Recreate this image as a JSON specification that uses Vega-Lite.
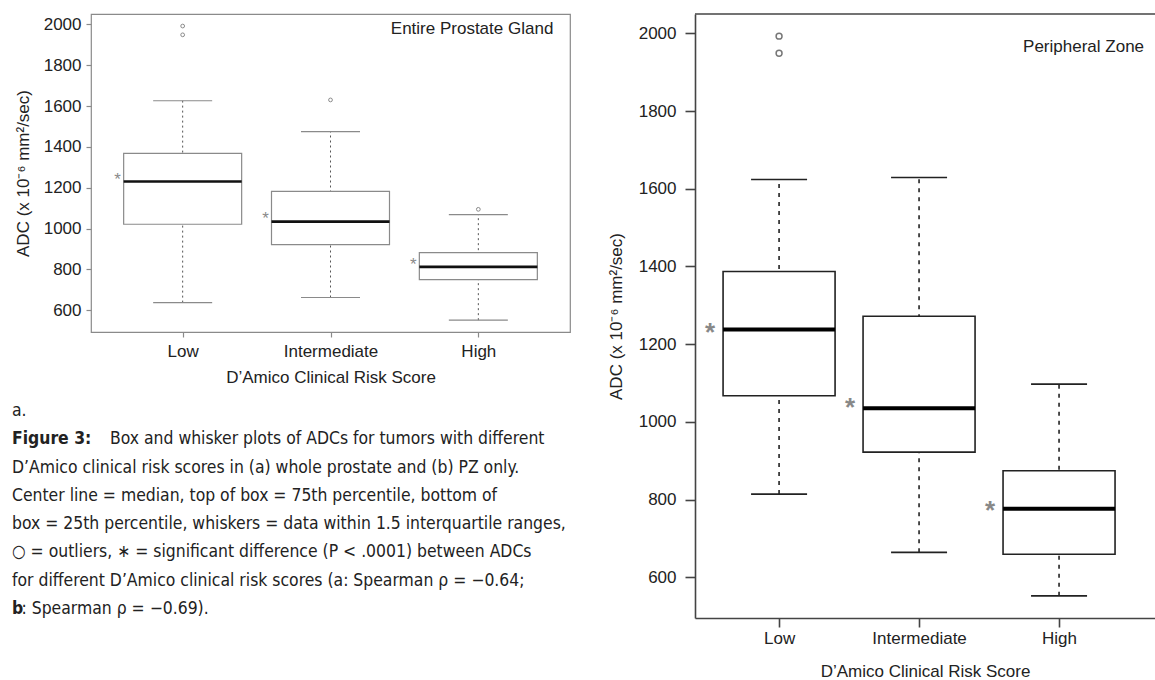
{
  "$schema": "https://vega.github.io/schema/vega-lite/v6.json",
  "padding": {"left": 12, "top": 13, "right": 0, "bottom": 0},
  "background": "white",
  "config": {"font": "Liberation Sans", "view": {"stroke": null}},
  "datasets": {
    "boxA": [
      {"risk": "Low", "lower": 637, "q1": 1021, "median": 1230, "q3": 1368, "upper": 1626},
      {"risk": "Intermediate", "lower": 662, "q1": 921, "median": 1034, "q3": 1182, "upper": 1475},
      {"risk": "High", "lower": 551, "q1": 750, "median": 812, "q3": 882, "upper": 1068}
    ],
    "outA": [
      {"risk": "Low", "value": 1992},
      {"risk": "Low", "value": 1949},
      {"risk": "Intermediate", "value": 1630},
      {"risk": "High", "value": 1094}
    ],
    "starA": [
      {"risk": "Low", "value": 1256},
      {"risk": "Intermediate", "value": 1065},
      {"risk": "High", "value": 840}
    ],
    "boxB": [
      {"risk": "Low", "lower": 814, "q1": 1067, "median": 1238, "q3": 1387, "upper": 1624},
      {"risk": "Intermediate", "lower": 664, "q1": 922, "median": 1035, "q3": 1272, "upper": 1629},
      {"risk": "High", "lower": 552, "q1": 659, "median": 776, "q3": 874, "upper": 1097}
    ],
    "outB": [
      {"risk": "Low", "value": 1993},
      {"risk": "Low", "value": 1949}
    ],
    "starB": [
      {"risk": "Low", "value": 1245},
      {"risk": "Intermediate", "value": 1050},
      {"risk": "High", "value": 786}
    ],
    "captionLines": [
      {"line": 0, "text": "a."},
      {"line": 1, "text": "Box and whisker plots of ADCs for tumors with different"},
      {"line": 2, "text": "D’Amico clinical risk scores in (a) whole prostate and (b) PZ only."},
      {"line": 3, "text": "Center line = median, top of box = 75th percentile, bottom of"},
      {"line": 4, "text": "box = 25th percentile, whiskers = data within 1.5 interquartile ranges,"},
      {"line": 5, "text": "○ = outliers, ∗ = significant difference (P < .0001) between ADCs"},
      {"line": 6, "text": "for different D’Amico clinical risk scores (a: Spearman ρ = −0.64;"},
      {"line": 7, "text": ": Spearman ρ = −0.69)."}
    ],
    "captionBold": [
      {"line": 1, "text": "Figure 3:"},
      {"line": 7, "text": "b"}
    ]
  },
  "spacing": 36,
  "hconcat": [
    {
      "spacing": 14,
      "vconcat": [
        {
          "width": 479,
          "height": 318,
          "view": {"stroke": "#8a8a8a", "strokeWidth": 1.2},
          "layer": [
            {
              "data": {"name": "boxA"},
              "encoding": {
                "x": {
                  "field": "risk", "type": "nominal", "title": "D’Amico Clinical Risk Score",
                  "scale": {"type": "point", "domain": ["Low", "Intermediate", "High"], "padding": 0.62},
                  "axis": {"labelAngle": 0, "domain": false, "grid": false,
                           "tickColor": "#8a8a8a", "tickSize": 5, "tickWidth": 1.2, "labelFontSize": 17, "labelPadding": 6,
                           "labelColor": "#222", "titleFontSize": 17, "titleFontWeight": "normal", "titleColor": "#222", "titlePadding": 10}
                }
              },
              "layer": [
                {
                  "mark": {"type": "rule", "strokeDash": [2, 3], "color": "#555", "strokeWidth": 1},
                  "encoding": {
                    "y": {
                      "field": "lower", "type": "quantitative", "title": "ADC (x 10⁻⁶ mm²/sec)",
                      "scale": {"domain": [493, 2051], "zero": false, "nice": false},
                      "axis": {"values": [600, 800, 1000, 1200, 1400, 1600, 1800, 2000], "format": "d",
                               "domain": false, "grid": false, "tickColor": "#8a8a8a", "tickSize": 5, "tickWidth": 1.2,
                               "labelFontSize": 17, "labelPadding": 5, "labelColor": "#222",
                               "titleFontSize": 17, "titleFontWeight": "normal", "titleColor": "#222", "titlePadding": 11}
                    },
                    "y2": {"field": "upper"}
                  }
                },
                {
                  "mark": {"type": "tick", "size": 59, "thickness": 1.2, "color": "#8a8a8a", "opacity": 1},
                  "encoding": {"y": {"field": "upper", "type": "quantitative", "title": "ADC (x 10⁻⁶ mm²/sec)"}}
                },
                {
                  "mark": {"type": "tick", "size": 59, "thickness": 1.2, "color": "#8a8a8a", "opacity": 1},
                  "encoding": {"y": {"field": "lower", "type": "quantitative", "title": "ADC (x 10⁻⁶ mm²/sec)"}}
                },
                {
                  "mark": {"type": "bar", "size": 118, "fill": "white", "stroke": "#8a8a8a", "strokeWidth": 1.2},
                  "encoding": {"y": {"field": "q1", "type": "quantitative", "title": "ADC (x 10⁻⁶ mm²/sec)"}, "y2": {"field": "q3"}}
                },
                {
                  "mark": {"type": "tick", "size": 118, "thickness": 2.6, "color": "#111", "opacity": 1},
                  "encoding": {"y": {"field": "median", "type": "quantitative", "title": "ADC (x 10⁻⁶ mm²/sec)"}}
                },
                {
                  "data": {"name": "outA"},
                  "mark": {"type": "point", "shape": "circle", "filled": false, "size": 14, "color": "#8a8a8a", "strokeWidth": 1, "opacity": 1},
                  "encoding": {"y": {"field": "value", "type": "quantitative", "title": "ADC (x 10⁻⁶ mm²/sec)"}}
                },
                {
                  "data": {"name": "starA"},
                  "mark": {"type": "text", "text": "*", "fontSize": 17, "color": "#8a8a8a", "dx": -65, "dy": 4, "baseline": "middle", "align": "center"},
                  "encoding": {"y": {"field": "value", "type": "quantitative", "title": "ADC (x 10⁻⁶ mm²/sec)"}}
                }
              ]
            },
            {
              "data": {"values": [{"label": "Entire Prostate Gland"}]},
              "mark": {"type": "text", "fontSize": 17, "color": "#222", "align": "right", "baseline": "middle", "dx": 75},
              "encoding": {
                "x": {"datum": "High", "type": "nominal", "title": "D’Amico Clinical Risk Score"},
                "y": {"datum": 1977, "type": "quantitative", "title": "ADC (x 10⁻⁶ mm²/sec)"},
                "text": {"field": "label"}
              }
            }
          ]
        },
        {
          "width": 400,
          "height": 220,
          "encoding": {
            "y": {"field": "line", "type": "ordinal", "scale": {"type": "point", "domain": [0, 1, 2, 3, 4, 5, 6, 7], "padding": 0.4}, "axis": null},
            "x": {"datum": 0, "type": "quantitative", "scale": {"domain": [0, 1]}, "axis": null},
            "text": {"field": "text"}
          },
          "layer": [
            {
              "data": {"name": "captionLines"},
              "transform": [{"filter": "datum.line != 1 && datum.line != 7"}],
              "mark": {"type": "text", "align": "left", "baseline": "middle", "dx": -79, "font": "Liberation Sans Narrow, DejaVu Sans Condensed, sans-serif", "fontSize": 17.4, "color": "#222"}
            },
            {
              "data": {"name": "captionLines"},
              "transform": [{"filter": "datum.line == 1"}],
              "mark": {"type": "text", "align": "left", "baseline": "middle", "dx": 19, "font": "Liberation Sans Narrow, DejaVu Sans Condensed, sans-serif", "fontSize": 17.4, "color": "#222"}
            },
            {
              "data": {"name": "captionLines"},
              "transform": [{"filter": "datum.line == 7"}],
              "mark": {"type": "text", "align": "left", "baseline": "middle", "dx": -69.5, "font": "Liberation Sans Narrow, DejaVu Sans Condensed, sans-serif", "fontSize": 17.4, "color": "#222"}
            },
            {
              "data": {"name": "captionBold"},
              "mark": {"type": "text", "align": "left", "baseline": "middle", "dx": -79, "fontWeight": "bold", "font": "Liberation Sans Narrow, DejaVu Sans Condensed, sans-serif", "fontSize": 17.4, "color": "#222"}
            }
          ]
        }
      ]
    },
    {
      "width": 460,
      "height": 604,
      "layer": [
        {
          "data": {"name": "boxB"},
          "encoding": {
            "x": {
              "field": "risk", "type": "nominal", "title": "D’Amico Clinical Risk Score",
              "scale": {"type": "point", "domain": ["Low", "Intermediate", "High"], "padding": 0.643, "align": 0.467},
              "axis": {"labelAngle": 0, "domain": true, "domainColor": "#444", "domainWidth": 1.6, "grid": false,
                       "tickColor": "#444", "tickSize": 9, "tickWidth": 1.6, "labelFontSize": 17, "labelPadding": 3,
                       "labelColor": "#222", "titleFontSize": 17, "titleFontWeight": "normal", "titleColor": "#222", "titlePadding": 17}
            }
          },
          "layer": [
            {
              "mark": {"type": "rule", "strokeDash": [4, 5], "color": "#222", "strokeWidth": 1.6},
              "encoding": {
                "y": {
                  "field": "lower", "type": "quantitative", "title": "ADC (x 10⁻⁶ mm²/sec)",
                  "scale": {"domain": [495, 2050], "zero": false, "nice": false},
                  "axis": {"values": [600, 800, 1000, 1200, 1400, 1600, 1800, 2000], "format": "d",
                           "domain": true, "domainColor": "#444", "domainWidth": 1.6, "grid": false, "tickColor": "#444", "tickSize": 10, "tickWidth": 1.6,
                           "labelFontSize": 17, "labelPadding": 9, "labelColor": "#222",
                           "titleFontSize": 17, "titleFontWeight": "normal", "titleColor": "#222", "titlePadding": 13}
                },
                "y2": {"field": "upper"}
              }
            },
            {
              "mark": {"type": "tick", "size": 56, "thickness": 1.6, "color": "#222", "opacity": 1},
              "encoding": {"y": {"field": "upper", "type": "quantitative", "title": "ADC (x 10⁻⁶ mm²/sec)"}}
            },
            {
              "mark": {"type": "tick", "size": 56, "thickness": 1.6, "color": "#222", "opacity": 1},
              "encoding": {"y": {"field": "lower", "type": "quantitative", "title": "ADC (x 10⁻⁶ mm²/sec)"}}
            },
            {
              "mark": {"type": "bar", "size": 112, "fill": "white", "stroke": "#222", "strokeWidth": 1.6},
              "encoding": {"y": {"field": "q1", "type": "quantitative", "title": "ADC (x 10⁻⁶ mm²/sec)"}, "y2": {"field": "q3"}}
            },
            {
              "mark": {"type": "tick", "size": 112, "thickness": 4, "color": "#000", "opacity": 1},
              "encoding": {"y": {"field": "median", "type": "quantitative", "title": "ADC (x 10⁻⁶ mm²/sec)"}}
            },
            {
              "data": {"name": "outB"},
              "mark": {"type": "point", "shape": "circle", "filled": false, "size": 35, "color": "#777", "strokeWidth": 1.5, "opacity": 1},
              "encoding": {"y": {"field": "value", "type": "quantitative", "title": "ADC (x 10⁻⁶ mm²/sec)"}}
            },
            {
              "data": {"name": "starB"},
              "mark": {"type": "text", "text": "*", "fontSize": 26, "fontWeight": "bold", "color": "#888", "dx": -69, "dy": 6, "baseline": "middle", "align": "center"},
              "encoding": {"y": {"field": "value", "type": "quantitative", "title": "ADC (x 10⁻⁶ mm²/sec)"}}
            }
          ]
        },
        {
          "data": {"values": [{"label": "Peripheral Zone"}]},
          "mark": {"type": "text", "fontSize": 17, "color": "#222", "align": "right", "baseline": "middle", "dx": 85},
          "encoding": {
            "x": {"datum": "High", "type": "nominal", "title": "D’Amico Clinical Risk Score"},
            "y": {"datum": 1966, "type": "quantitative", "title": "ADC (x 10⁻⁶ mm²/sec)"},
            "text": {"field": "label"}
          }
        },
        {
          "data": {"values": [{"edge": "top"}]},
          "mark": {"type": "rule", "color": "#444", "strokeWidth": 1.6},
          "encoding": {"y": {"datum": 2050, "type": "quantitative", "title": "ADC (x 10⁻⁶ mm²/sec)"}}
        }
      ]
    }
  ]
}
